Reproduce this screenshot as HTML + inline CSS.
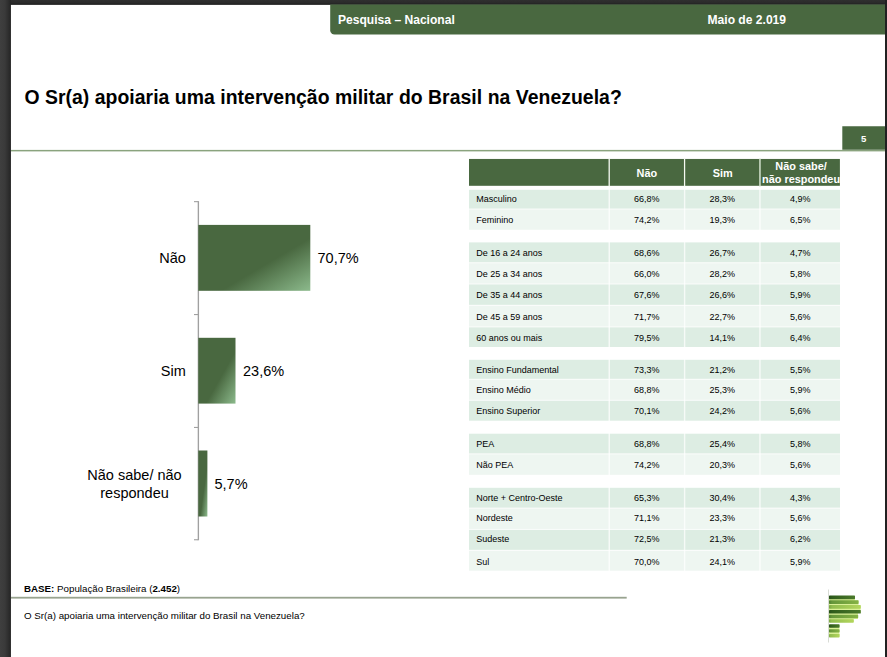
<!DOCTYPE html>
<html lang="pt-BR">
<head>
<meta charset="utf-8">
<title>Pesquisa – Nacional</title>
<style>
*{box-sizing:border-box;margin:0;padding:0}
html,body{width:887px;height:657px;overflow:hidden}
body{position:relative;background:#2c2c2c;font-family:"Liberation Sans",sans-serif;color:#000}
.abs{position:absolute}
.hd{color:#fff;font-weight:bold;font-size:12.08px;line-height:14px;white-space:nowrap}
#title{left:24.4px;top:86.2px;font-size:19.4px;letter-spacing:.04px;font-weight:bold;line-height:22px;white-space:nowrap;color:#000}
#pgbox{left:842.4px;top:126.3px;width:42.6px;height:23.5px;color:#fff;font-weight:bold;font-size:9.6px;line-height:23.5px;text-align:center;padding-top:1.2px}
.cl{font-size:14.5px;line-height:17px;white-space:nowrap;color:#000}
/* table */
.th{top:159.1px;height:26.8px;color:#fff;font-weight:bold;font-size:10.9px;line-height:13px;text-align:center;display:flex;align-items:center;justify-content:center;padding-top:2.2px}
.trow{left:469px;width:371px;height:12px;font-size:9px;line-height:12px;white-space:nowrap}
.trow span{position:absolute;top:0;height:12px}
.trow .c0{left:7.3px}
.trow .c1{left:140.3px;width:75px;text-align:center}
.trow .c2{left:215.8px;width:75px;text-align:center}
.trow .c3{left:291.3px;width:79.7px;text-align:center}
.ft{left:24px;font-size:9.75px;line-height:12px;white-space:nowrap}
</style>
</head>
<body>
<svg class="abs" id="bg" style="left:0;top:0" width="887" height="657" viewBox="0 0 887 657">
  <defs>
    <linearGradient id="lg" x1="0" y1="0" x2="1" y2="0"><stop offset="0" stop-color="#3f3f3f"/><stop offset=".45" stop-color="#3a3a3a"/><stop offset="1" stop-color="#252525"/></linearGradient>
    <linearGradient id="tg" x1="0" y1="0" x2="0" y2="1"><stop offset="0" stop-color="#2f2f2f"/><stop offset=".65" stop-color="#2a2a2a"/><stop offset="1" stop-color="#1b1b1b"/></linearGradient>
  </defs>
  <rect x="0" y="0" width="887" height="657" fill="#2b2b2b"/>
  <rect x="10.75" y="4.6" width="874.3" height="652.4" fill="#fff"/>
  <rect x="10" y="0" width="877" height="4.7" fill="url(#tg)"/>
  <rect x="0" y="0" width="10.8" height="657" fill="url(#lg)"/>
  <rect x="885" y="0" width="2" height="657" fill="#212121"/>
  <rect x="11" y="149.9" width="874" height="1.5" fill="#8aa37e"/>
  <rect x="11" y="596.8" width="615.7" height="1.8" fill="#98a38f"/>
  <path d="M330.2 4.6H885V34.6H334.6A4.4 4.4 0 0 1 330.2 30.2Z" fill="#496840"/>
  <rect x="842.3" y="126.25" width="42.7" height="23.5" fill="#496840"/>
  <defs>
    <linearGradient id="barg" x1="0" y1="0" x2="1" y2="1"><stop offset="0" stop-color="#496840"/><stop offset=".6" stop-color="#496840"/><stop offset="1" stop-color="#8cba8c"/></linearGradient>
  </defs>
  <g id="chart">
    <rect x="197.7" y="201.1" width="1.35" height="339.2" fill="#a0a0a0"/>
    <rect x="194" y="201.1" width="4" height="1.1" fill="#a0a0a0"/>
    <rect x="194" y="314" width="4" height="1.1" fill="#a0a0a0"/>
    <rect x="194" y="426.9" width="4" height="1.1" fill="#a0a0a0"/>
    <rect x="194" y="539.2" width="4" height="1.1" fill="#a0a0a0"/>
    <rect x="198.3" y="224.9" width="112" height="65.9" fill="url(#barg)"/>
    <rect x="198.3" y="337.8" width="37.2" height="65.8" fill="url(#barg)"/>
    <rect x="198.3" y="450.5" width="9.1" height="66" fill="url(#barg)"/>
  </g>
  <g id="tbl-rows">
    <rect x="469" y="189.8" width="371" height="19.2" fill="#ddede3"/>
    <rect x="469" y="209" width="371" height="20.75" fill="#eef6f1"/>
    <rect x="469" y="242.4" width="371" height="20.4" fill="#ddede3"/>
    <rect x="469" y="262.8" width="371" height="21.2" fill="#eef6f1"/>
    <rect x="469" y="284.0" width="371" height="21.3" fill="#ddede3"/>
    <rect x="469" y="305.3" width="371" height="21.6" fill="#eef6f1"/>
    <rect x="469" y="326.9" width="371" height="20.1" fill="#ddede3"/>
    <rect x="469" y="359.8" width="371" height="19.45" fill="#ddede3"/>
    <rect x="469" y="379.25" width="371" height="21.0" fill="#eef6f1"/>
    <rect x="469" y="400.25" width="371" height="20.45" fill="#ddede3"/>
    <rect x="469" y="433.7" width="371" height="20.2" fill="#ddede3"/>
    <rect x="469" y="453.9" width="371" height="20.9" fill="#eef6f1"/>
    <rect x="469" y="487.8" width="371" height="20.3" fill="#ddede3"/>
    <rect x="469" y="508.1" width="371" height="21.3" fill="#eef6f1"/>
    <rect x="469" y="529.4" width="371" height="20.9" fill="#ddede3"/>
    <rect x="469" y="550.3" width="371" height="20.4" fill="#eef6f1"/>
    <rect x="469" y="208.5" width="371" height="1" fill="#fff" fill-opacity=".8"/>
    <rect x="469" y="262.3" width="371" height="1" fill="#fff" fill-opacity=".8"/>
    <rect x="469" y="283.5" width="371" height="1" fill="#fff" fill-opacity=".8"/>
    <rect x="469" y="304.8" width="371" height="1" fill="#fff" fill-opacity=".8"/>
    <rect x="469" y="326.4" width="371" height="1" fill="#fff" fill-opacity=".8"/>
    <rect x="469" y="378.75" width="371" height="1" fill="#fff" fill-opacity=".8"/>
    <rect x="469" y="399.75" width="371" height="1" fill="#fff" fill-opacity=".8"/>
    <rect x="469" y="453.4" width="371" height="1" fill="#fff" fill-opacity=".8"/>
    <rect x="469" y="507.6" width="371" height="1" fill="#fff" fill-opacity=".8"/>
    <rect x="469" y="528.9" width="371" height="1" fill="#fff" fill-opacity=".8"/>
    <rect x="469" y="549.8" width="371" height="1" fill="#fff" fill-opacity=".8"/>
  </g>
  <g id="tbl-head">
    <rect x="469" y="158.95" width="370.9" height="26.85" fill="#496840"/>
    <rect x="608.55" y="158.5" width="1.3" height="28" fill="#f6faf3"/>
    <rect x="683.95" y="158.5" width="1.25" height="28" fill="#f6faf3"/>
    <rect x="759.2" y="158.5" width="1.5" height="28" fill="#d3e2cd"/>
  </g>
  <g id="tbl-vdiv" fill="#fff" fill-opacity=".72">
    <rect x="608.5" y="189" width="1.5" height="382.5"/>
    <rect x="683.9" y="189" width="1.4" height="382.5"/>
    <rect x="759.2" y="189" width="1.5" height="382.5"/>
  </g>
</svg>

<div class="abs hd" style="left:338px;top:12.6px">Pesquisa – Nacional</div>
<div class="abs hd" style="left:707.5px;top:12.6px">Maio de 2.019</div>

<div class="abs" id="title">O Sr(a) apoiaria uma intervenção militar do Brasil na Venezuela?</div>

<div class="abs" id="pgbox">5</div>

<!-- bar chart -->


<div class="abs cl" style="left:100px;width:85.8px;text-align:right;top:250px">Não</div>
<div class="abs cl" style="left:317.5px;top:250px">70,7%</div>
<div class="abs cl" style="left:100px;width:85.8px;text-align:right;top:363.4px">Sim</div>
<div class="abs cl" style="left:243px;top:363.4px">23,6%</div>
<div class="abs cl" style="left:69.5px;width:130px;text-align:center;top:466px;line-height:18px">Não sabe/ não<br>respondeu</div>
<div class="abs cl" style="left:214.5px;top:476.1px">5,7%</div>

<!-- table header -->
<div class="abs th" style="left:609.9px;width:74px">Não</div>
<div class="abs th" style="left:685.6px;width:74.3px">Sim</div>
<div class="abs th" style="left:761.3px;width:79.5px;padding-top:.6px">Não sabe/<br>não respondeu</div>

<!-- table rows -->
<div class="abs trow" style="top:193.1px"><span class="c0">Masculino</span><span class="c1">66,8%</span><span class="c2">28,3%</span><span class="c3">4,9%</span></div>
<div class="abs trow" style="top:214.1px"><span class="c0">Feminino</span><span class="c1">74,2%</span><span class="c2">19,3%</span><span class="c3">6,5%</span></div>
<div class="abs trow" style="top:247.1px"><span class="c0">De 16 a 24 anos</span><span class="c1">68,6%</span><span class="c2">26,7%</span><span class="c3">4,7%</span></div>
<div class="abs trow" style="top:268.1px"><span class="c0">De 25 a 34 anos</span><span class="c1">66,0%</span><span class="c2">28,2%</span><span class="c3">5,8%</span></div>
<div class="abs trow" style="top:289.1px"><span class="c0">De 35 a 44 anos</span><span class="c1">67,6%</span><span class="c2">26,6%</span><span class="c3">5,9%</span></div>
<div class="abs trow" style="top:311.1px"><span class="c0">De 45 a 59 anos</span><span class="c1">71,7%</span><span class="c2">22,7%</span><span class="c3">5,6%</span></div>
<div class="abs trow" style="top:332.1px"><span class="c0">60 anos ou mais</span><span class="c1">79,5%</span><span class="c2">14,1%</span><span class="c3">6,4%</span></div>
<div class="abs trow" style="top:364.1px"><span class="c0">Ensino Fundamental</span><span class="c1">73,3%</span><span class="c2">21,2%</span><span class="c3">5,5%</span></div>
<div class="abs trow" style="top:384.1px"><span class="c0">Ensino Médio</span><span class="c1">68,8%</span><span class="c2">25,3%</span><span class="c3">5,9%</span></div>
<div class="abs trow" style="top:405.1px"><span class="c0">Ensino Superior</span><span class="c1">70,1%</span><span class="c2">24,2%</span><span class="c3">5,6%</span></div>
<div class="abs trow" style="top:438.1px"><span class="c0">PEA</span><span class="c1">68,8%</span><span class="c2">25,4%</span><span class="c3">5,8%</span></div>
<div class="abs trow" style="top:459.1px"><span class="c0">Não PEA</span><span class="c1">74,2%</span><span class="c2">20,3%</span><span class="c3">5,6%</span></div>
<div class="abs trow" style="top:492.1px"><span class="c0">Norte + Centro-Oeste</span><span class="c1">65,3%</span><span class="c2">30,4%</span><span class="c3">4,3%</span></div>
<div class="abs trow" style="top:512.1px"><span class="c0">Nordeste</span><span class="c1">71,1%</span><span class="c2">23,3%</span><span class="c3">5,6%</span></div>
<div class="abs trow" style="top:533.1px"><span class="c0">Sudeste</span><span class="c1">72,5%</span><span class="c2">21,3%</span><span class="c3">6,2%</span></div>
<div class="abs trow" style="top:556.1px"><span class="c0">Sul</span><span class="c1">70,0%</span><span class="c2">24,1%</span><span class="c3">5,9%</span></div>


<!-- footer -->
<div class="abs ft" style="top:583.4px"><b>BASE:</b> População Brasileira (<b>2.452</b>)</div>
<div class="abs ft" style="top:610.4px">O Sr(a) apoiaria uma intervenção militar do Brasil na Venezuela?</div>

<!-- logo -->
<svg class="abs" style="left:826px;top:587px" width="40" height="58" viewBox="826 587 40 58">
  <defs>
    <linearGradient id="gd" x1="0" x2="1" y1="0" y2="0"><stop offset="0" stop-color="#26501a"/><stop offset=".12" stop-color="#2f5c1b"/><stop offset="1" stop-color="#4b7a2b"/></linearGradient>
    <linearGradient id="gm" x1="0" x2="1" y1="0" y2="0"><stop offset="0" stop-color="#4f8030"/><stop offset=".1" stop-color="#65963a"/><stop offset="1" stop-color="#86b345"/></linearGradient>
    <linearGradient id="gl" x1="0" x2="1" y1="0" y2="0"><stop offset="0" stop-color="#7ba844"/><stop offset=".1" stop-color="#92bd4f"/><stop offset="1" stop-color="#b3d65d"/></linearGradient>
  </defs>
  <rect x="828.35" y="589.5" width="0.6" height="53" fill="#bfc4bb"/>
  <path d="M829 596.5H855V600.5H858.5V605.5H860.6V613H858V619H853.6V622H829Z" fill="#d9f096"/>
  <rect x="829" y="625" width="10.4" height="11.5" fill="#d9f096"/>
  <rect x="829" y="595.4" width="26" height="3.8" rx=".7" fill="url(#gd)"/>
  <rect x="829" y="600.3" width="29.6" height="3.6" rx=".7" fill="url(#gm)"/>
  <rect x="829" y="605.1" width="31.8" height="3.6" rx=".7" fill="url(#gl)"/>
  <rect x="829" y="609.9" width="31.8" height="3.7" rx=".7" fill="url(#gd)"/>
  <rect x="829" y="614.7" width="29.2" height="3.5" rx=".7" fill="url(#gm)"/>
  <rect x="829" y="619.3" width="24.8" height="3.5" rx=".7" fill="url(#gl)"/>
  <rect x="829" y="624.2" width="10.6" height="3.6" rx=".7" fill="url(#gd)"/>
  <rect x="829" y="629.2" width="10.6" height="3.3" rx=".7" fill="url(#gm)"/>
  <rect x="829" y="633.9" width="10.6" height="3.5" rx=".7" fill="url(#gl)"/>
</svg>
</body>
</html>
